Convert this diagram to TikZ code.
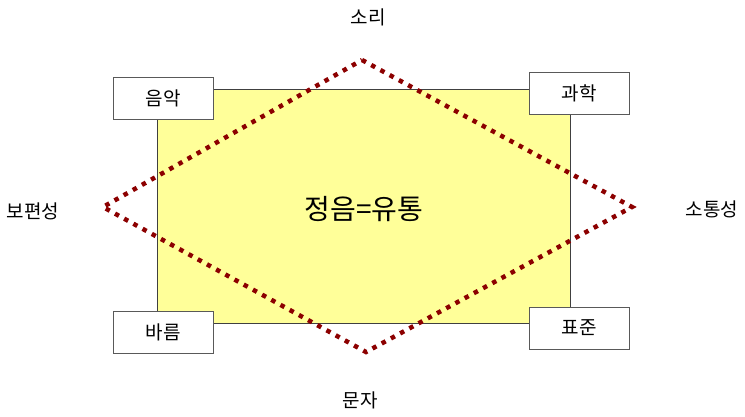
\documentclass[tikz,border=0pt]{standalone}
\usepackage{fontspec}
\setmainfont{Noto Sans CJK KR}
\begin{document}
\begin{tikzpicture}[x=1pt,y=-1pt,
  tag/.style={draw=black!65,line width=0.8pt,fill=white,minimum width=100pt,minimum height=42pt,inner sep=0pt,font=\fontsize{19}{21}\selectfont},
  lbl/.style={font=\fontsize{19}{21}\selectfont,inner sep=0pt},
  dots/.style={draw=red!55!black,line width=4.5pt,dash pattern=on 4.5pt off 6pt}]
\useasboundingbox (0,0) rectangle (745,417);
\definecolor{paleyellow}{RGB}{255,255,153}
\node[draw=black!75,line width=0.8pt,fill=paleyellow,minimum width=413pt,minimum height=234pt,inner sep=0pt] (main) at (363.5,206.5) {};
\coordinate (t) at (362,60);
\coordinate (r) at (632,207);
\coordinate (b) at (366,352);
\coordinate (l) at (103,207);
\draw[dots] (t) -- (r) -- (b) -- (l) -- cycle;
\node[font=\fontsize{28}{30}\selectfont,inner sep=0pt] (center) at (364,209) {정음=유통};
\node[tag] (music) at (163,98) {음악};
\node[tag] (sci) at (579,93) {과학};
\node[tag] (right) at (163,332) {바름};
\node[tag] (std) at (579,328) {표준};
\node[lbl] (sound) at (368,17) {소리};
\node[lbl] (univ) at (33,211) {보편성};
\node[lbl] (comm) at (712,209) {소통성};
\node[lbl] (char) at (360,400) {문자};
\end{tikzpicture}
\end{document}
